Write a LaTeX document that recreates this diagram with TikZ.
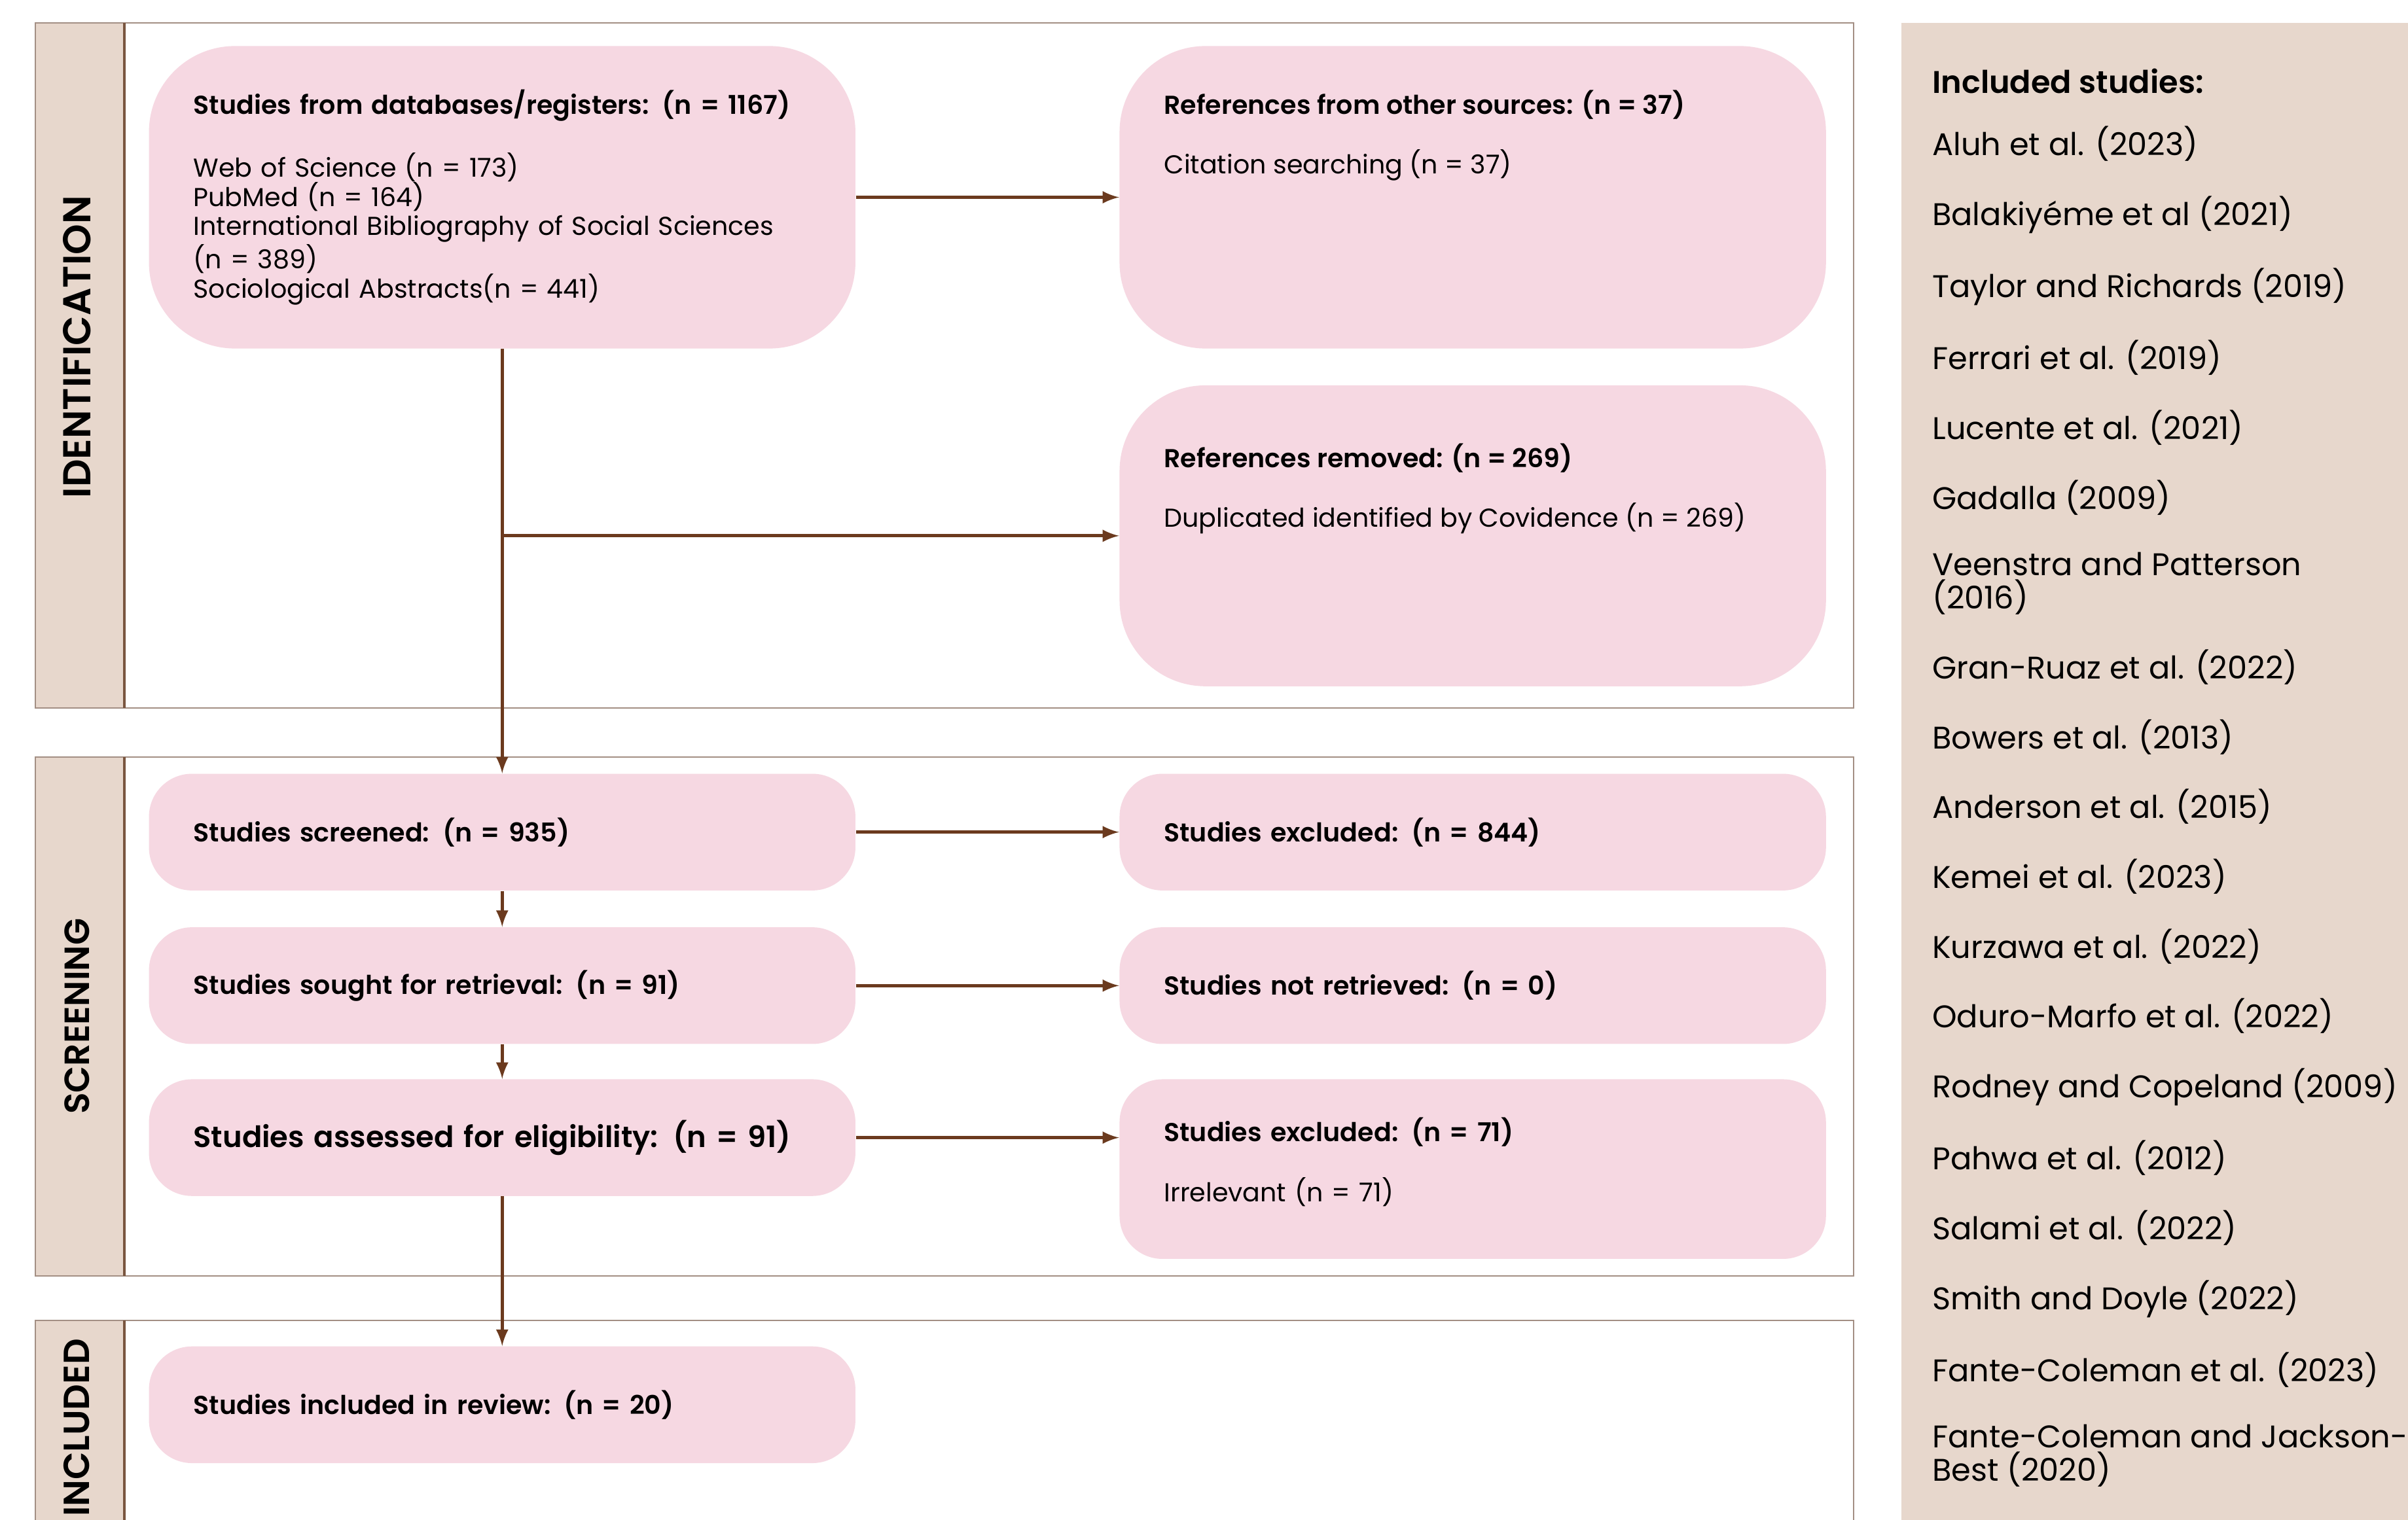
\documentclass[tikz,border=0pt]{standalone}
\usepackage{fontspec}
\setmainfont{Poppins}[BoldFont={Poppins SemiBold}]
\usetikzlibrary{arrows}
\usetikzlibrary{calc}

\definecolor{boxpink}{HTML}{F6D8E2}
\definecolor{stripbeige}{HTML}{E7D7CC}
\definecolor{arrowbrown}{HTML}{6B3A1E}
\definecolor{framegray}{HTML}{A38F84}
\definecolor{edgebrown}{HTML}{7A5640}

\tikzset{
  bigbox/.style={fill=boxpink, rounded corners=1.4cm, minimum width=11.5cm, minimum height=4.925cm, inner sep=0pt},
  smallbox/.style={fill=boxpink, rounded corners=0.7cm, minimum width=11.5cm, minimum height=1.9cm,
    inner xsep=0.725cm, inner ysep=0pt, text width=10.05cm, align=left, font=\fontsize{12}{13.8}\selectfont\bfseries},
  boxtext/.style={anchor=north west, inner sep=0pt, align=left, font=\fontsize{12}{13.8}\selectfont},
  flow/.style={-latex, line width=1.6pt, color=arrowbrown},
  frame/.style={draw=framegray, line width=0.6pt, fill=white},
  stage/.style={rotate=90, font=\fontsize{#1}{#1}\selectfont\bfseries},
}

\begin{document}
\begin{tikzpicture}
        \useasboundingbox (0,0) rectangle (39.2,-24.75);
        \clip (0,0) rectangle (39.2,-24.75);

        % stage frames with their side strips
        \foreach \i/\top/\bot/\ly/\fs/\name in {1/0.375/11.525/5.65/18/IDENTIFICATION,
                                          2/12.325/20.775/16.55/16.2/SCREENING,
                                          3/21.5/26/23.25/16.8/INCLUDED} {
                \draw[frame] (0.575,-\top) rectangle (30.175,-\bot);
                \fill[stripbeige] (0.575,-\top) rectangle (2.025,-\bot);
                \draw[framegray, line width=0.6pt] (0.575,-\top) rectangle (2.025,-\bot);
                \draw[edgebrown, line width=1.2pt] (2.025,-\top) -- (2.025,-\bot);
                \node[stage=\fs] (lab\i) at (1.25,-\ly) {\name};
        }

        % list of included studies
        \fill[stripbeige] (30.95,-0.375) rectangle (39.5,-25.5);
        \node[anchor=west, inner sep=0pt, font=\fontsize{14.5}{15.6}\selectfont\bfseries] (studhead) at (31.45,-1.325) {Included studies:};
        \node[anchor=north west, inner sep=0pt, align=left, font=\fontsize{14.5}{15.6}\selectfont] (studies) at (31.45,-2.05) {%
                Aluh et al. (2023)\\[15.1pt]
                Balakiyéme et al (2021)\\[15.1pt]
                Taylor and Richards (2019)\\[15.1pt]
                Ferrari et al. (2019)\\[15.1pt]
                Lucente et al. (2021)\\[15.1pt]
                Gadalla (2009)\\[15.1pt]
                Veenstra and Patterson\\ (2016)\\[15.1pt]
                Gran-Ruaz et al. (2022)\\[15.1pt]
                Bowers et al. (2013)\\[15.1pt]
                Anderson et al. (2015)\\[15.1pt]
                Kemei et al. (2023)\\[15.1pt]
                Kurzawa et al. (2022)\\[15.1pt]
                Oduro-Marfo et al. (2022)\\[15.1pt]
                Rodney and Copeland (2009)\\[15.1pt]
                Pahwa et al. (2012)\\[15.1pt]
                Salami et al. (2022)\\[15.1pt]
                Smith and Doyle (2022)\\[15.1pt]
                Fante-Coleman et al. (2023)\\[15.1pt]
                Fante-Coleman and Jackson-\\ Best (2020)};

        % identification
        \node[bigbox, inner xsep=0.725cm, text width=10.05cm, align=left, font=\fontsize{12}{13.5}\selectfont] (db) at (8.175,-3.2125) {%
                \textbf{Studies from databases/registers: (n = 1167)}\\[13.8pt]
                Web of Science (n = 173)\\
                PubMed (n = 164)\\
                International Bibliography of Social Sciences\\
                (n = 389)\\
                Sociological Abstracts(n = 441)};
        \node[bigbox] (other) at (23.975,-3.2125) {};
        \node[boxtext] (othertext) at ([shift={(0.725,-0.72)}]other.north west) {%
                \textbf{References from other sources: (n = 37)}\\[13.8pt]
                Citation searching (n = 37)};
        \node[bigbox, minimum height=4.9cm] (removed) at (23.975,-8.725) {};
        \node[boxtext] (removedtext) at ([shift={(0.725,-0.95)}]removed.north west) {%
                \textbf{References removed: (n = 269)}\\[13.8pt]
                Duplicated identified by Covidence (n = 269)};

        % screening
        \node[smallbox] (screened) at (8.175,-13.55) {Studies screened: (n = 935)};
        \node[smallbox] (excluded) at (23.975,-13.55) {Studies excluded: (n = 844)};
        \node[smallbox] (sought) at (8.175,-16.05) {Studies sought for retrieval: (n = 91)};
        \node[smallbox] (notretr) at (23.975,-16.05) {Studies not retrieved: (n = 0)};
        \node[smallbox, font=\fontsize{13.6}{15}\selectfont\bfseries] (assessed) at (8.175,-18.525) {Studies assessed for eligibility: (n = 91)};
        \node[smallbox, minimum height=2.925cm] (irrel) at (23.975,-19.0375) {%
                Studies excluded: (n = 71)\\[13.8pt]
                \mdseries Irrelevant (n = 71)\\[-5pt]\mbox{}};

        % included
        \node[smallbox] (included) at (8.175,-22.875) {Studies included in review: (n = 20)};

        % connectors
        \coordinate (split) at (db.south |- removed.west);
        \draw[flow] (db.east) -- (other.west);
        \draw[flow] (db.south) -- (screened.north);
        \draw[flow] (split) -- (removed.west);
        \draw[flow] (screened.south) -- (sought.north);
        \draw[flow] (sought.south) -- (assessed.north);
        \draw[flow] (assessed.south) -- (included.north);
        \draw[flow] (screened.east) -- (excluded.west);
        \draw[flow] (sought.east) -- (notretr.west);
        \draw[flow] (assessed.east) -- (assessed.east -| irrel.west);

\end{tikzpicture}
\end{document}
